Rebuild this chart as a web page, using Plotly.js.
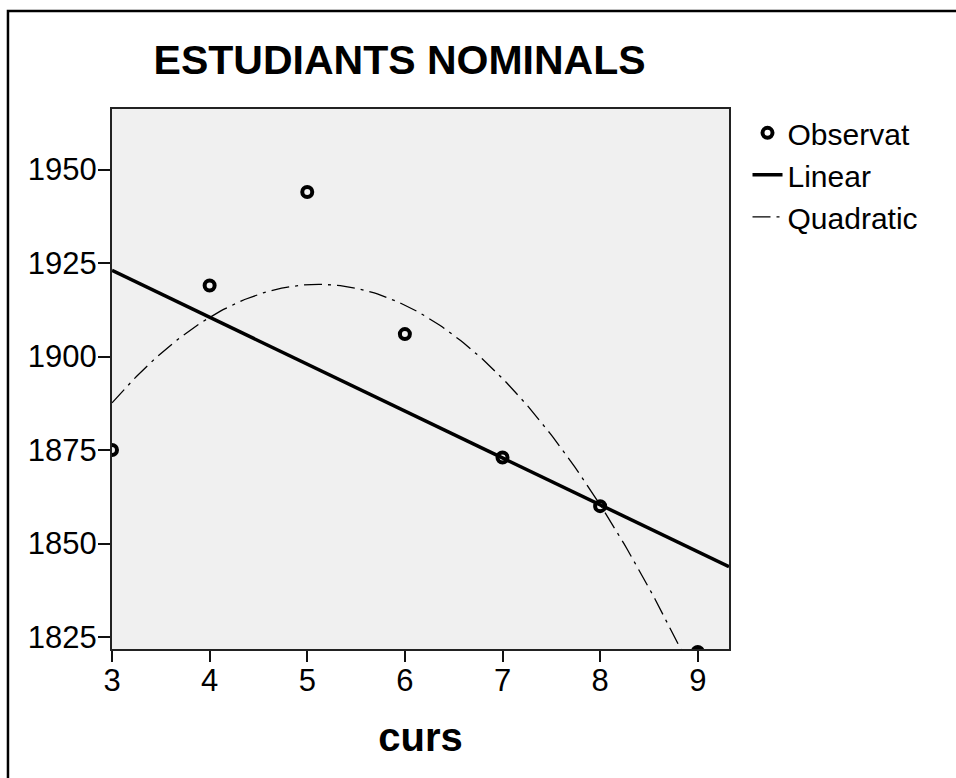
<!DOCTYPE html>
<html>
<head>
<meta charset="utf-8">
<script src="https://cdn.plot.ly/plotly-3.0.1.min.js"></script>
<style>html,body{margin:0;padding:0;background:#fff;}#chart{width:956px;height:778px;}</style>
</head>
<body>
<div id="chart"></div>
<script>
const curs = [3, 4, 5, 6, 7, 8, 9];
const estudiants = [1875, 1919, 1944, 1906, 1873, 1860, 1821];
const xTicks = [3, 4, 5, 6, 7, 8, 9];
const yTicks = [1825, 1850, 1875, 1900, 1925, 1950];
const xRange = [3, 9.32];
const yRange = [1821.8, 1966.2];

// Least-squares fits of the observed data (linear and quadratic), as in the chart
function polyfit(xs, ys, deg) {
  const n = deg + 1;
  const A = [];
  for (let i = 0; i < n; i++) {
    A.push([]);
    for (let j = 0; j < n; j++) {
      let s = 0; xs.forEach(x => s += Math.pow(x, i + j)); A[i].push(s);
    }
    let s = 0; xs.forEach((x, k) => s += Math.pow(x, i) * ys[k]); A[i].push(s);
  }
  for (let c = 0; c < n; c++) {
    let p = c; for (let r = c + 1; r < n; r++) if (Math.abs(A[r][c]) > Math.abs(A[p][c])) p = r;
    [A[c], A[p]] = [A[p], A[c]];
    for (let r = 0; r < n; r++) if (r !== c) {
      const f = A[r][c] / A[c][c];
      for (let k = c; k <= n; k++) A[r][k] -= f * A[c][k];
    }
  }
  return A.map((row, i) => row[n] / row[i]);
}
const linC = polyfit(curs, estudiants, 1);
const quadC = polyfit(curs, estudiants, 2);
const evalPoly = (c, x) => c.reduce((s, a, i) => s + a * Math.pow(x, i), 0);
const fitX = [];
for (let i = 0; i <= 200; i++) fitX.push(xRange[0] + (xRange[1] - xRange[0]) * i / 200);
const linY = fitX.map(x => evalPoly(linC, x));
const quadY = fitX.map(x => evalPoly(quadC, x));

const font = "Liberation Sans, Arial, sans-serif";

const traces = [
  {x: curs, y: estudiants, type: 'scatter', mode: 'markers', name: 'Observat',
   marker: {symbol: 'circle-open', size: 10, color: '#000', line: {width: 4, color: '#000'}}},
  {x: fitX, y: linY, type: 'scatter', mode: 'lines', name: 'Linear',
   line: {color: '#000', width: 3.5}},
  {x: fitX, y: quadY, type: 'scatter', mode: 'lines', name: 'Quadratic',
   line: {color: '#000', width: 1.3, dash: '18px,6px,3px,6px'}}
];

const layout = {
  width: 956, height: 778,
  margin: {l: 112, r: 227, t: 109, b: 129},
  paper_bgcolor: '#fff', plot_bgcolor: '#f0f0f0',
  font: {family: font, color: '#000', size: 31},
  title: {text: 'ESTUDIANTS NOMINALS', font: {family: font, size: 41, color: '#000', weight: 'bold'},
          xref: 'container', yref: 'container', x: 0.418, xanchor: 'center', y: 0.923, yanchor: 'middle'},
  xaxis: {range: xRange, tickvals: xTicks, ticks: 'outside', ticklen: 11, tickwidth: 2, tickcolor: '#111',
          showline: true, linecolor: '#222', linewidth: 2, mirror: true, showgrid: false, zeroline: false,
          tickfont: {size: 31}, ticklabelstandoff: -8,
          title: {text: 'curs', font: {family: font, size: 40, weight: 'bold'}, standoff: 26}},
  yaxis: {range: yRange, tickvals: yTicks, ticks: 'outside', ticklen: 12, tickwidth: 2, tickcolor: '#111',
          showline: true, linecolor: '#222', linewidth: 2, mirror: true, showgrid: false, zeroline: false,
          tickfont: {size: 31}, ticklabelstandoff: -5},
  showlegend: true,
  legend: {x: 1.03, xanchor: 'left', y: 1.004, yanchor: 'top', bgcolor: 'rgba(0,0,0,0)',
           font: {size: 30}, tracegroupgap: 0, itemwidth: 30},
  shapes: [{type: 'rect', xref: 'paper', yref: 'paper', x0: -0.1686, x1: 1.6, y0: -0.4, y1: 1.1815,
            line: {color: '#000', width: 2.5}, fillcolor: 'rgba(0,0,0,0)', layer: 'below'}]
};

Plotly.newPlot('chart', traces, layout, {displayModeBar: false, staticPlot: true});
</script>
</body>
</html>
